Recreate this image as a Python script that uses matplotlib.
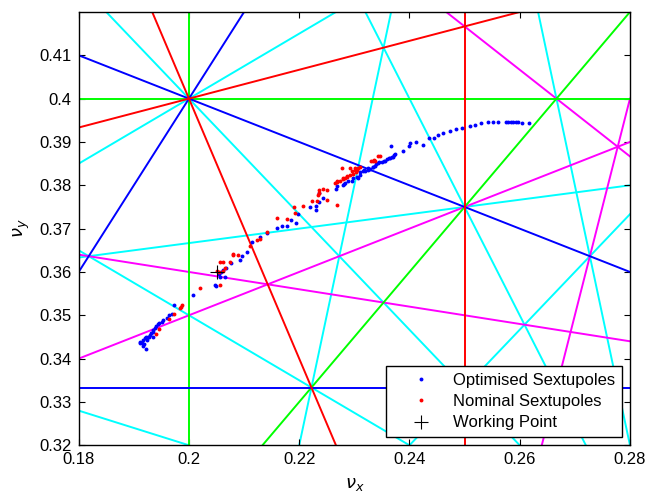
import matplotlib
matplotlib.use("Agg")
import matplotlib.pyplot as plt
from matplotlib.ticker import FixedLocator, FuncFormatter

plt.rcParams['font.family'] = ['Liberation Sans', 'DejaVu Sans']
plt.rcParams['mathtext.fontset'] = 'dejavusans'

# Resonance lines m*nu_x + n*nu_y = p, grouped by order |m|+|n|
res_m = [0, 2, 1, 4, 3, -1, 5, 0, 3, 5, 1, -2, 3, 6, 6, -1, 5, 2, 4, 4, 3, 3]
res_n = [3, -1, 2, 0, 1, 3, 0, 5, -2, -1, 5, 4, 3, 1, -1, 6, 2, 5, 3, -3, 4, -4]
res_p = [1, 0, 1, 1, 1, 1, 1, 2, 0, 1, 2, 1, 2, 2, 1, 2, 2, 2, 2, 0, 2, -1]
order_colors = {3: 'blue', 4: 'red', 5: (0, 1, 0), 6: 'magenta', 7: 'cyan'}
order_zorder = {7: 1, 6: 2, 5: 3, 3: 4, 4: 5}

# Tune scans
opt_nux = [0.1911, 0.1914, 0.1912, 0.1916, 0.1922, 0.1918, 0.1917, 0.1920, 0.1922, 0.1924,
           0.1926, 0.1928, 0.1929, 0.1932, 0.1934, 0.1934, 0.1935, 0.1938, 0.1940, 0.1944,
           0.1946, 0.1951, 0.1953, 0.1960, 0.1964, 0.1969, 0.1972, 0.2007, 0.2049, 0.2047,
           0.2055, 0.2056, 0.2059, 0.2062, 0.2065, 0.2067, 0.2076, 0.2093, 0.2096, 0.2106,
           0.2115, 0.2129, 0.2142, 0.2159, 0.2168, 0.2178, 0.2185, 0.2194, 0.2197, 0.2220,
           0.2230, 0.2230, 0.2235, 0.2235, 0.2244, 0.2267, 0.2268, 0.2281, 0.2279, 0.2283,
           0.2289, 0.2295, 0.2297, 0.2304, 0.2307, 0.2310, 0.2310, 0.2315, 0.2318, 0.2319,
           0.2324, 0.2325, 0.2328, 0.2333, 0.2334, 0.2337, 0.2339, 0.2343, 0.2345, 0.2350,
           0.2353, 0.2356, 0.2359, 0.2362, 0.2365, 0.2368, 0.2370, 0.2372, 0.2374, 0.2366,
           0.2388, 0.2399, 0.2401, 0.2411, 0.2425, 0.2436, 0.2444, 0.2451, 0.2461, 0.2474,
           0.2484, 0.2495, 0.2510, 0.2519, 0.2530, 0.2542, 0.2551, 0.2561, 0.2575, 0.2579,
           0.2584, 0.2588, 0.2593, 0.2596, 0.2605, 0.2616]
opt_nuy = [0.3439, 0.3436, 0.3436, 0.3429, 0.3422, 0.3434, 0.3443, 0.3447, 0.3449, 0.3443,
           0.3451, 0.3449, 0.3455, 0.3459, 0.3462, 0.3451, 0.3466, 0.3470, 0.3476, 0.3480,
           0.3482, 0.3485, 0.3489, 0.3493, 0.3501, 0.3503, 0.3524, 0.3547, 0.3568, 0.3569,
           0.3595, 0.3589, 0.3600, 0.3605, 0.3589, 0.3610, 0.3620, 0.3628, 0.3636, 0.3647,
           0.3670, 0.3680, 0.3691, 0.3701, 0.3705, 0.3706, 0.3721, 0.3714, 0.3734, 0.3751,
           0.3753, 0.3743, 0.3782, 0.3761, 0.3770, 0.3791, 0.3799, 0.3803, 0.3801, 0.3805,
           0.3809, 0.3809, 0.3817, 0.3820, 0.3817, 0.3830, 0.3824, 0.3834, 0.3836, 0.3832,
           0.3840, 0.3836, 0.3837, 0.3843, 0.3842, 0.3845, 0.3849, 0.3851, 0.3854, 0.3853,
           0.3857, 0.3857, 0.3861, 0.3863, 0.3864, 0.3865, 0.3866, 0.3870, 0.3872, 0.3890,
           0.3880, 0.3890, 0.3897, 0.3901, 0.3894, 0.3910, 0.3910, 0.3917, 0.3921, 0.3925,
           0.3931, 0.3933, 0.3938, 0.3940, 0.3944, 0.3945, 0.3947, 0.3947, 0.3947, 0.3947,
           0.3947, 0.3947, 0.3947, 0.3947, 0.3943, 0.3943]

nom_nux = [0.1941, 0.1946, 0.1963, 0.1972, 0.1987, 0.1985, 0.1984, 0.2020, 0.2056, 0.2051,
           0.2055, 0.2061, 0.2065, 0.2056, 0.2061, 0.2074, 0.2080, 0.2079, 0.2089, 0.2111,
           0.2124, 0.2128, 0.2142, 0.2159, 0.2177, 0.2191, 0.2192, 0.2207, 0.2223, 0.2232,
           0.2250, 0.2268, 0.2235, 0.2243, 0.2251, 0.2236, 0.2234, 0.2265, 0.2268, 0.2269,
           0.2274, 0.2279, 0.2283, 0.2287, 0.2292, 0.2298, 0.2303, 0.2305, 0.2301, 0.2292,
           0.2310, 0.2277, 0.2286, 0.2280, 0.2295, 0.2301, 0.2307, 0.2331, 0.2336, 0.2333,
           0.2337, 0.2343, 0.2347]
nom_nuy = [0.3457, 0.3468, 0.3492, 0.3503, 0.3524, 0.3520, 0.3516, 0.3563, 0.3570, 0.3603,
           0.3601, 0.3603, 0.3609, 0.3624, 0.3623, 0.3623, 0.3639, 0.3642, 0.3639, 0.3659,
           0.3674, 0.3676, 0.3693, 0.3724, 0.3723, 0.3751, 0.3737, 0.3753, 0.3763, 0.3763,
           0.3767, 0.3755, 0.3790, 0.3791, 0.3790, 0.3783, 0.3778, 0.3805, 0.3809, 0.3808,
           0.3811, 0.3814, 0.3817, 0.3820, 0.3824, 0.3827, 0.3830, 0.3836, 0.3840, 0.3840,
           0.3843, 0.3840, 0.3822, 0.3817, 0.3832, 0.3836, 0.3840, 0.3857, 0.3859, 0.3857,
           0.3857, 0.3867, 0.3868]

wp_nux = [0.2050]
wp_nuy = [0.3601]

x_ticks = [0.18, 0.20, 0.22, 0.24, 0.26, 0.28]
y_ticks = [0.32, 0.33, 0.34, 0.35, 0.36, 0.37, 0.38, 0.39, 0.40, 0.41]

fig = plt.figure(figsize=(6.58, 4.93), dpi=100)
ax = fig.add_axes([0.1196, 0.0968, 0.8378, 0.8789])

for m, n, p in zip(res_m, res_n, res_p):
    order = abs(m) + abs(n)
    kw = dict(color=order_colors[order], lw=1.4, zorder=order_zorder[order])
    if n == 0:
        ax.axvline(p / m, **kw)
    else:
        ax.axline((0.0, p / n), slope=-m / n, **kw)

ax.plot(opt_nux, opt_nuy, 'o', color='blue', ms=2.8, mew=0, zorder=10,
        label='Optimised Sextupoles')
ax.plot(nom_nux, nom_nuy, 'o', color='red', ms=2.8, mew=0, zorder=11,
        label='Nominal Sextupoles')
ax.plot(wp_nux, wp_nuy, '+', color='black', ms=10, mew=0.8, zorder=12,
        label='Working Point')

ax.set_xlim(0.18, 0.28)
ax.set_ylim(0.32, 0.42)
ax.xaxis.set_major_locator(FixedLocator(x_ticks))
ax.yaxis.set_major_locator(FixedLocator(y_ticks))
fmt = FuncFormatter(lambda v, pos: '%g' % round(v, 4))
ax.xaxis.set_major_formatter(fmt)
ax.yaxis.set_major_formatter(fmt)
ax.tick_params(direction='in', length=4, width=0.8, top=True, right=True,
               labelsize=12, pad=5)
for s in ax.spines.values():
    s.set_linewidth(1.0)
    s.set_zorder(20)

ax.set_xlabel(r'$\nu_x$', fontsize=13, labelpad=6)
ax.set_ylabel(r'$\nu_y$', fontsize=13, labelpad=5)

leg = ax.legend(loc='lower right', bbox_to_anchor=(0.9855, 0.019), fontsize=12,
                frameon=True, fancybox=False, edgecolor='black', framealpha=1,
                handlelength=3.4, handletextpad=0.25, labelspacing=0.38,
                borderpad=0.4, borderaxespad=0.0, markerscale=1.0)
leg.get_frame().set_linewidth(1.0)
leg.set_zorder(30)

fig.savefig('out.png', dpi=100)
